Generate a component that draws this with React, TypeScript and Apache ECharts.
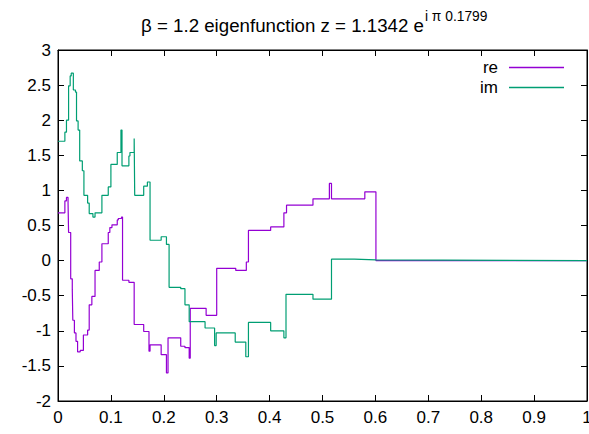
import React, { useEffect, useRef } from "react";
import * as echarts from "echarts";

// step series: [x where segment starts, value]
const reSteps: [number, number][] = [
  [0, 0.68], [0.013, 0.85], [0.016, 0.9], [0.019, 0.82], [0.02, 0.4], [0.024, -0.26],
  [0.027, -0.41], [0.028, -0.85], [0.031, -1.03], [0.034, -1.15], [0.037, -1.3],
  [0.042, -1.28], [0.048, -1.06], [0.056, -0.99], [0.059, -0.63], [0.064, -0.51],
  [0.07, -0.14], [0.078, -0.02], [0.083, 0.24], [0.095, 0.4], [0.098, 0.47],
  [0.102, 0.51], [0.112, 0.58], [0.114, 0.6], [0.12, 0.62], [0.122, -0.28],
  [0.134, -0.31], [0.144, -0.91], [0.162, -1.01], [0.172, -1.29], [0.174, -1.2],
  [0.195, -1.34], [0.205, -1.6], [0.208, -1.1], [0.232, -1.22], [0.24, -1.24],
  [0.248, -1.39], [0.25, -0.68], [0.28, -0.78], [0.3, -0.11], [0.336, -0.14],
  [0.356, -0.02], [0.36, 0.43], [0.402, 0.48], [0.427, 0.68], [0.432, 0.79],
  [0.482, 0.88], [0.513, 1.1], [0.517, 0.88], [0.58, 0.98], [0.601, 0], [1, 0],
];

const imSteps: [number, number][] = [
  [0, 1.7], [0.013, 1.83], [0.016, 2.0], [0.02, 2.49], [0.023, 2.63], [0.025, 2.67],
  [0.029, 2.43], [0.033, 2.4], [0.035, 1.99], [0.038, 1.86], [0.041, 1.42],
  [0.046, 1.28], [0.049, 0.93], [0.056, 0.82], [0.059, 0.67], [0.066, 0.62],
  [0.07, 0.68], [0.083, 0.93], [0.095, 1.05], [0.1, 1.37], [0.112, 1.54],
  [0.119, 1.86], [0.121, 1.35], [0.134, 1.49], [0.136, 1.54], [0.144, 1.74],
  [0.145, 0.93], [0.162, 1.06], [0.169, 1.12], [0.174, 0.29], [0.195, 0.34],
  [0.205, 0.23], [0.21, -0.38], [0.232, -0.4], [0.24, -0.63], [0.248, -0.87],
  [0.278, -0.96], [0.296, -1.21], [0.299, -1.03], [0.335, -1.16], [0.355, -1.37],
  [0.36, -0.88], [0.402, -1.0], [0.427, -1.1], [0.431, -0.48], [0.482, -0.55],
  [0.517, 0.02], [0.56, 0.01], [0.601, 0], [1, 0],
];

const xTicks = { min: 0, max: 1, interval: 0.1 };
const yTicks = { min: -2, max: 3, interval: 0.5 };

const RE_COLOR = "#9400d3";
const IM_COLOR = "#009e73";
const FONT = "Liberation Sans";

export default function App() {
  const ref = useRef<HTMLDivElement>(null);
  useEffect(() => {
    const chart = echarts.init(ref.current!, null, { renderer: "svg" });
    const axisCommon = {
      axisLine: { show: true, onZero: false, lineStyle: { color: "#000", width: 1 } },
      axisTick: { show: true, inside: true, length: 6, lineStyle: { color: "#000" } },
      splitLine: { show: false },
    };
    chart.setOption({
      animation: false,
      backgroundColor: "#fff",
      title: {
        text: "{a|β = 1.2 eigenfunction z = 1.1342 e}{b|i π 0.1799}",
        left: 136,
        top: 4,
        textStyle: {
          rich: {
            a: { fontFamily: FONT, fontSize: 18.7, fontWeight: "normal", color: "#000", lineHeight: 24, padding: [9, 0, 0, 0] },
            b: { fontFamily: FONT, fontSize: 13.8, fontWeight: "normal", color: "#000", lineHeight: 16, padding: [0, 0, 9, 1] },
          },
        },
      },
      legend: {
        orient: "vertical",
        right: 20,
        top: 54,
        align: "right",
        icon: "rect",
        itemWidth: 55,
        itemHeight: 1.4,
        itemGap: 3,
        textStyle: { fontFamily: FONT, fontSize: 17, color: "#000", width: 22, align: "right", padding: [0, 6, 0, 0] },
        data: [
          { name: "re", itemStyle: { color: RE_COLOR, borderWidth: 0 } },
          { name: "im", itemStyle: { color: IM_COLOR, borderWidth: 0 } },
        ],
      },
      grid: {
        left: 58, right: 2, top: 50, bottom: 33,
        outerBoundsMode: "none", containLabel: false,
        show: true, borderColor: "#000", borderWidth: 1,
      },
      xAxis: [
        {
          type: "value", ...xTicks, ...axisCommon, position: "bottom",
          axisLabel: { fontFamily: FONT, fontSize: 17, color: "#000", margin: 8, formatter: (v: number) => String(Math.round(v * 10) / 10) },
        },
        {
          type: "value", ...xTicks, ...axisCommon, position: "top",
          axisLabel: { show: false },
        },
      ],
      yAxis: [
        {
          type: "value", ...yTicks, ...axisCommon, position: "left",
          axisLabel: { fontFamily: FONT, fontSize: 17, color: "#000", margin: 7, formatter: (v: number) => String(v) },
        },
        {
          type: "value", ...yTicks, ...axisCommon, position: "right",
          axisLabel: { show: false },
        },
      ],
      series: [
        {
          name: "re", type: "line", step: "end", data: reSteps, symbol: "none",
          color: RE_COLOR, itemStyle: { color: RE_COLOR }, lineStyle: { width: 1.2, color: RE_COLOR },
        },
        {
          name: "im", type: "line", step: "end", data: imSteps, symbol: "none",
          color: IM_COLOR, itemStyle: { color: IM_COLOR }, lineStyle: { width: 1.2, color: IM_COLOR },
        },
      ],
    });
    return () => chart.dispose();
  }, []);
  return <div ref={ref} style={{ position: "absolute", left: 0, top: 0, width: 589, height: 434 }} />;
}
